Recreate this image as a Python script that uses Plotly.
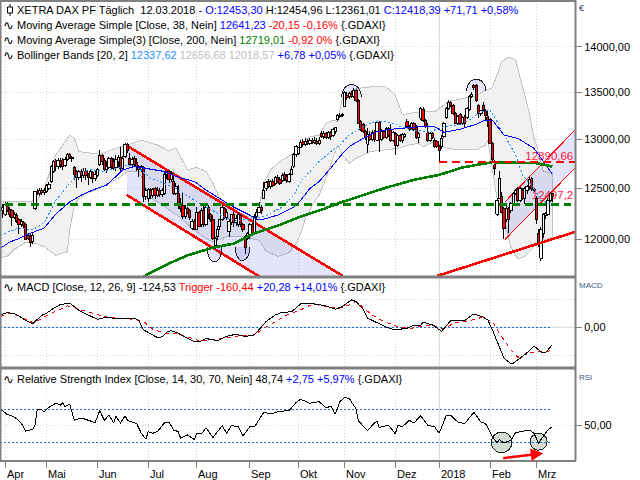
"""
XETRA DAX daily candles with moving averages, Bollinger bands, MACD and RSI
"""

import numpy as np
import plotly.graph_objects as go

# Candles, one per trading day (index -1 ... 237)
bar_index = list(range(-1, 238))
opens = [
    12279, 12245, 12340, 12289, 12279, 12211, 12235, 12194, 12143, 12167,
    12143, 12041, 12031, 11980, 12296, 12473, 12449, 12483, 12456, 12473,
    12500, 12568, 12670, 12779, 12721, 12786, 12789, 12731, 12789, 12840,
    12813, 12711, 12670, 12609, 12670, 12629, 12677, 12643, 12609, 12663,
    12595, 12629, 12738, 12833, 12779, 12687, 12711, 12799, 12772, 12711,
    12772, 12813, 12704, 12823, 12949, 12806, 12745, 12799, 12765, 12721,
    12687, 12711, 12415, 12398, 12483, 12425, 12500, 12432, 12483, 12439,
    12449, 12643, 12670, 12585, 12568, 12449, 12449, 12347, 12330, 12221,
    12296, 12279, 12109, 12177, 12099, 12262, 12143, 12279, 12143, 12313,
    12245, 12194, 11939, 12024, 12119, 12194, 12296, 12211, 12075, 12160,
    12245, 12160, 12143, 12228, 12143, 12024, 12007, 12041, 12143, 12065,
    12221, 12262, 12313, 12398, 12500, 12568, 12517, 12568, 12551, 12609,
    12585, 12575, 12636, 12619, 12568, 12643, 12721, 12840, 12857, 12915,
    12976, 12949, 12983, 12959, 12993, 12969, 12983, 12959, 13063, 13028,
    13063, 13020, 13070, 13040, 13080, 13205, 13240, 13250, 13346, 13470,
    13452, 13487, 13452, 13522, 13416, 13187, 13152, 13081, 12950, 13050,
    13000, 13070, 12990, 13180, 13000, 13080, 13020, 13110, 13100, 12990,
    13060, 12940, 13040, 12990, 13030, 13187, 13134, 13110, 13170, 13120,
    13020, 13222, 13320, 13200, 13070, 12990, 13060, 12990, 12975, 12925,
    12925, 13028, 13229, 13328, 13395, 13360, 13270, 13170, 13260, 13170,
    13240, 13230, 13316, 13456, 13575, 13570, 13360, 13270, 13360, 13300,
    13240, 13210, 12960, 12740, 12245, 12398, 12415, 12296, 12194, 12296,
    12279, 12347, 12449, 12500, 12381, 12483, 12398, 12483, 12517, 12595,
    12480, 12398, 12058, 11820, 12058, 12230, 12245, 12381, 12453.3,
]
highs = [
    12347, 12364, 12364, 12313, 12296, 12262, 12255, 12211, 12194, 12177,
    12160, 12058, 12048, 12058, 12473, 12493, 12500, 12500, 12505, 12541,
    12568, 12738, 12789, 12799, 12806, 12806, 12806, 12817, 12857, 12857,
    12830, 12721, 12687, 12687, 12697, 12704, 12704, 12653, 12687, 12677,
    12670, 12704, 12891, 12847, 12806, 12772, 12823, 12823, 12806, 12840,
    12840, 12925, 12830, 12959, 12965, 12857, 12823, 12830, 12806, 12738,
    12740, 12721, 12500, 12507, 12500, 12507, 12517, 12510, 12500, 12500,
    12670, 12680, 12687, 12670, 12636, 12551, 12534, 12400, 12449, 12330,
    12313, 12296, 12201, 12194, 12313, 12279, 12303, 12347, 12337, 12337,
    12260, 12235, 12024, 12126, 12194, 12330, 12313, 12290, 12201, 12245,
    12262, 12240, 12269, 12250, 12160, 12041, 12070, 12160, 12160, 12245,
    12290, 12364, 12330, 12568, 12575, 12590, 12585, 12590, 12629, 12635,
    12610, 12653, 12660, 12640, 12653, 12721, 12857, 12942, 12925, 12993,
    13000, 13010, 13000, 13015, 13015, 13020, 13010, 13027, 13090, 13085,
    13080, 13090, 13090, 13115, 13135, 13265, 13275, 13280, 13510, 13500,
    13500, 13510, 13550, 13535, 13425, 13200, 13170, 13095, 13120, 13090,
    13095, 13095, 13190, 13195, 13105, 13100, 13130, 13125, 13160, 13085,
    13075, 13060, 13055, 13070, 13065, 13210, 13150, 13185, 13185, 13150,
    13075, 13345, 13340, 13215, 13170, 13075, 13075, 13010, 12995, 12940,
    13050, 13185, 13345, 13420, 13410, 13375, 13285, 13255, 13275, 13245,
    13255, 13345, 13470, 13500, 13590, 13585, 13375, 13315, 13400, 13320,
    13300, 13225, 12975, 12790, 12400, 12670, 12460, 12310, 12320, 12310,
    12360, 12465, 12495, 12510, 12515, 12500, 12515, 12530, 12610, 12610,
    12505, 12420, 12100, 12115, 12260, 12270, 12400, 12465, 12454.96,
]
lows = [
    12211, 12228, 12262, 12221, 12126, 12194, 12160, 12048, 12119, 12109,
    11990, 11990, 11929, 11956, 12289, 12432, 12425, 12432, 12432, 12449,
    12483, 12551, 12653, 12670, 12697, 12704, 12690, 12714, 12772, 12799,
    12770, 12585, 12500, 12585, 12568, 12602, 12585, 12534, 12592, 12551,
    12575, 12619, 12721, 12738, 12670, 12653, 12697, 12687, 12687, 12670,
    12704, 12670, 12690, 12806, 12860, 12721, 12721, 12730, 12670, 12619,
    12660, 12364, 12380, 12364, 12398, 12405, 12398, 12410, 12415, 12415,
    12432, 12590, 12551, 12560, 12432, 12432, 12296, 12270, 12194, 12201,
    12245, 12190, 12092, 12085, 12085, 12126, 12119, 12119, 12126, 12194,
    12170, 11990, 11905, 11990, 12090, 12177, 12194, 12190, 12024, 12143,
    12119, 12130, 12119, 12120, 12070, 11857, 11990, 12007, 12041, 12058,
    12190, 12255, 12245, 12391, 12473, 12500, 12490, 12510, 12534, 12550,
    12530, 12568, 12575, 12550, 12550, 12630, 12704, 12823, 12840, 12908,
    12925, 12935, 12940, 12945, 12950, 12955, 12940, 12940, 13010, 13005,
    13000, 13000, 12990, 13025, 13060, 13190, 13225, 13235, 13340, 13420,
    13430, 13435, 13440, 13400, 13160, 13085, 13070, 12990, 12857, 12980,
    12985, 12975, 12980, 12870, 12985, 13005, 13005, 13020, 12975, 12975,
    12840, 12925, 12970, 12960, 13015, 13120, 13085, 13095, 13085, 13005,
    12960, 13205, 13185, 13115, 12975, 12975, 13005, 12910, 12910, 12772,
    12900, 13015, 13215, 13315, 13345, 13255, 13160, 13155, 13155, 13155,
    13130, 13215, 13300, 13440, 13530, 13400, 13220, 13250, 13295, 13200,
    13130, 12950, 12780, 12636, 12230, 12390, 12255, 12007, 12170, 12060,
    12260, 12335, 12435, 12360, 12365, 12385, 12340, 12440, 12480, 12470,
    12460, 12150, 11930, 11790, 12010, 12200, 12230, 12365, 12361.01,
]
closes = [
    12313, 12340, 12279, 12245, 12211, 12245, 12177, 12143, 12177, 12133,
    11997, 12007, 11973, 12041, 12466, 12449, 12483, 12456, 12483, 12527,
    12541, 12721, 12772, 12721, 12779, 12738, 12721, 12789, 12840, 12813,
    12800, 12636, 12609, 12670, 12629, 12670, 12629, 12609, 12670, 12595,
    12643, 12687, 12833, 12772, 12687, 12721, 12799, 12721, 12704, 12789,
    12813, 12704, 12800, 12949, 12880, 12745, 12789, 12745, 12721, 12687,
    12721, 12415, 12480, 12493, 12425, 12493, 12432, 12483, 12439, 12483,
    12643, 12670, 12585, 12653, 12449, 12517, 12330, 12296, 12221, 12296,
    12262, 12211, 12177, 12099, 12262, 12126, 12279, 12143, 12313, 12245,
    12194, 12007, 12007, 12099, 12194, 12313, 12211, 12262, 12177, 12245,
    12160, 12200, 12245, 12143, 12099, 11922, 12058, 12143, 12058, 12221,
    12260, 12313, 12279, 12483, 12561, 12517, 12568, 12527, 12609, 12568,
    12551, 12629, 12595, 12575, 12643, 12687, 12840, 12925, 12915, 12969,
    12949, 12983, 12959, 12993, 12969, 12990, 12959, 12993, 13028, 13063,
    13020, 13070, 13030, 13100, 13120, 13250, 13255, 13265, 13494, 13441,
    13487, 13452, 13522, 13416, 13169, 13099, 13081, 13017, 13050, 13000,
    13070, 13000, 13180, 13000, 13080, 13020, 13110, 13040, 12990, 13070,
    12940, 13040, 12990, 13050, 13050, 13134, 13100, 13170, 13100, 13020,
    13060, 13328, 13200, 13130, 12990, 13060, 13020, 12925, 12925, 12890,
    13010, 13170, 13328, 13395, 13360, 13270, 13170, 13240, 13170, 13230,
    13170, 13330, 13456, 13480, 13547, 13416, 13270, 13300, 13310, 13250,
    13200, 12960, 12790, 12700, 12381, 12602, 12262, 12109, 12296, 12194,
    12347, 12449, 12480, 12381, 12500, 12398, 12500, 12517, 12585, 12500,
    12490, 12194, 11956, 12092, 12245, 12250, 12381, 12449, 12418.39,
]

# SMA 38
sma38_x = [-2, 2, 6, 11, 17, 22, 28, 33, 38, 44, 48, 51, 56, 61, 69, 74, 82, 87, 93, 99, 105,
           110, 113, 118, 125, 128, 132, 136, 141, 145, 149, 155, 161, 167, 180, 186, 190, 197,
           204, 207, 211, 216, 222, 229, 237]
sma38_y = [11915, 11973, 12007, 12058, 12109, 12245, 12364, 12432, 12483, 12534, 12619, 12687,
           12721, 12704, 12670, 12619, 12568, 12483, 12398, 12313, 12245, 12187, 12201, 12235,
           12313, 12381, 12500, 12568, 12704, 12823, 12925, 13010, 13081, 13106, 13134, 13134,
           13074, 13106, 13159, 13194, 13201, 13046, 13010, 12908, 12641.23]

# SMA 200
sma200_x = [55, 61, 70, 79, 90, 99, 108, 118, 128, 136, 145, 155, 165, 177, 188, 198, 211, 222, 230, 237]
sma200_y = [11560, 11660, 11760, 11846, 11920, 11958, 12058, 12131, 12221, 12279, 12357, 12432,
            12507, 12585, 12636, 12711, 12765, 12758, 12755, 12719.01]

# Bollinger bands
bb_upper_x = [-2, 11, 14, 17, 19, 22, 26, 28, 30, 32, 41, 48, 53, 59, 66, 71, 74, 79, 83, 87, 90,
              93, 96, 102, 109, 112, 115, 119, 125, 128, 132, 136, 139, 142, 144, 146, 149, 152,
              158, 165, 169, 172, 175, 181, 186, 190, 192, 198, 203, 208, 211, 215, 218, 221, 224,
              227, 229, 231, 233, 237]
bb_upper_y = [12364, 12371, 12381, 12500, 12636, 12840, 12976, 13044, 13010, 12874, 12847, 12908,
              12942, 12993, 12942, 12881, 12908, 12687, 12711, 12670, 12551, 12398, 12330, 12245,
              12194, 12551, 12687, 12772, 12857, 12942, 13027, 13044, 13169, 13205, 13187, 13434,
              13505, 13540, 13558, 13558, 13469, 13257, 13275, 13293, 13293, 13363, 13399, 13434,
              13452, 13522, 13547, 13840, 13886, 13858, 13558, 13275, 13010, 12874, 12670, 12656.68]
bb_lower_x = [-2, 1, 4, 6, 9, 14, 17, 22, 27, 28, 30, 32, 35, 41, 48, 53, 58, 60, 62, 66, 76, 80,
              86, 90, 96, 103, 110, 113, 118, 123, 126, 128, 130, 133, 136, 139, 144, 146, 149,
              152, 158, 165, 170, 175, 179, 181, 186, 191, 197, 204, 208, 209, 213, 217, 219, 222,
              225, 228, 230, 235, 237]
bb_lower_y = [11827, 11837, 11905, 11929, 11973, 11956, 11929, 11847, 11881, 12092, 12330, 12398,
              12449, 12500, 12585, 12670, 12670, 12568, 12415, 12364, 12211, 12126, 12024, 11973,
              12024, 12024, 11990, 11888, 11837, 11871, 11956, 12058, 12194, 12330, 12432, 12602,
              12942, 12840, 12755, 12806, 12874, 12891, 12908, 12942, 12959, 12925, 12976, 12908,
              12891, 12891, 12942, 12993, 12398, 12109, 11922, 11813, 11837, 11905, 11973, 12007,
              12018.57]
bb_mid_x = [-2, 2, 6, 12, 17, 22, 28, 32, 37, 43, 48, 53, 58, 63, 67, 74, 82, 90, 96, 100, 106,
            112, 120, 125, 128, 132, 136, 141, 145, 149, 155, 161, 167, 171, 176, 184, 190, 196,
            201, 206, 210, 213, 215, 217, 221, 224, 229, 232, 237]
bb_mid_y = [12041, 12075, 12109, 12092, 12160, 12381, 12551, 12653, 12687, 12670, 12704, 12738,
            12704, 12602, 12568, 12500, 12381, 12279, 12201, 12184, 12194, 12221, 12313, 12432,
            12568, 12670, 12772, 12874, 12942, 13046, 13134, 13194, 13180, 13134, 13099, 13081,
            13134, 13152, 13205, 13293, 13310, 13187, 13081, 13010, 12840, 12636, 12500, 12381,
            12337.62]

# Support line and channels
support_level = 12340
resistance_level = 12765
resistance_x = [188, 247]
support_x = [0, 245]
rising_x = [187, 247]
rising_y = [11652, 12073]
channel1_x = [52.7, 146.3]
channel1_upper = [12935, 11652]
channel1_lower = [12434, 11177]
channel2_x = [216.5, 246.75]
channel2_upper = [12367, 13098]
channel2_lower = [12000, 12705]

# MACD pane
macd_x = [-2, 0, 1, 4, 6, 9, 12, 13, 16, 18, 21, 24, 28, 30, 32, 35, 38, 40, 43, 47, 51, 56, 58, 60,
          63, 66, 68, 70, 72, 75, 78, 82, 84, 87, 92, 96, 100, 104, 108, 110, 113, 117, 120, 124,
          128, 132, 136, 139, 143, 146, 150, 152, 155, 157, 161, 165, 169, 174, 177, 180, 181,
          185, 189, 193, 199, 203, 207, 209, 211, 214, 216, 219, 220, 223, 226, 229, 232, 234,
          235, 237]
macd_y = [88, 100, 105, 98, 81, 48, 24, 41, 86, 100, 136, 163, 172, 148, 120, 96, 69, 57, 69, 67, 62,
          65, 48, -19, -48, -74, -69, -36, -24, -43, -72, -103, -105, -81, -96, -65, -50, -67, -55,
          -14, 41, 88, 108, 110, 167, 172, 163, 153, 129, 148, 196, 184, 129, 65, 33, 0, -19, -7,
          14, 14, 36, 17, -29, 48, 48, 96, 72, 53, -19, -139, -222, -261, -258, -222, -182, -134,
          -177, -182, -163, -124.53]
trigger_x = [-2, 2, 6, 12, 15, 19, 27, 32, 38, 43, 48, 56, 60, 64, 69, 74, 80, 84, 90, 96, 102, 108,
             112, 116, 122, 128, 133, 136, 144, 148, 152, 158, 162, 166, 170, 175, 180, 185, 190,
             194, 200, 206, 211, 214, 219, 222, 226, 230, 234, 237]
trigger_y = [76, 100, 81, 33, 53, 91, 153, 129, 96, 76, 65, 57, 41, -14, -43, -43, -74, -96, -91, -74,
             -60, -55, -7, 29, 88, 124, 165, 158, 134, 153, 184, 100, 57, 29, 5, -10, 5, 14, -14, 29,
             41, 69, 41, -43, -163, -215, -191, -174, -179, -160.44]

# RSI pane
rsi_x = [-2, -1, 1, 3, 5, 7, 9, 12, 13, 14, 16, 17, 19, 22, 24, 25, 26, 28, 30, 32, 33, 35, 38, 39,
         41, 43, 45, 47, 48, 50, 52, 53, 57, 59, 61, 62, 64, 66, 69, 71, 73, 75, 76, 79, 82, 83, 85,
         87, 90, 94, 96, 98, 101, 103, 106, 108, 112, 115, 119, 123, 126, 128, 132, 136, 139, 141,
         143, 145, 147, 149, 152, 153, 157, 159, 161, 162, 166, 169, 170, 172, 175, 177, 180, 183,
         186, 188, 191, 193, 196, 199, 203, 206, 208, 211, 213, 214, 216, 219, 221, 227, 229, 231,
         235, 237]
rsi_y = [70, 68, 63.3, 61.8, 58.2, 53.1, 43.3, 45.3, 50.4, 70, 68.8, 66.5, 72, 77, 74.7, 77.8, 73.1,
         75.9, 56.3, 58.2, 59, 57.4, 54.3, 53.5, 68, 56.3, 62.9, 53.1, 61, 53.1, 61.8, 56.3, 52.4,
         40.6, 33.5, 42.6, 40.6, 42.6, 53.1, 54.3, 44.5, 42.6, 34.7, 38.6, 32.8, 40.6, 39.8, 47.3,
         35.5, 49.6, 40.6, 50, 48.4, 37.5, 48.4, 48.4, 66, 64.1, 67.2, 68, 77.8, 81.8, 77, 79, 71.2,
         73.5, 64.1, 79, 83.7, 82.9, 70, 55.5, 43.7, 50.4, 55.5, 47.6, 50.4, 39.8, 50.4, 48.4, 56.3,
         53.1, 61.8, 50.4, 48.4, 40.6, 62.2, 62.2, 54.3, 52.4, 66.1, 54.3, 52.4, 36.7, 28.8, 32.8,
         28.8, 32, 41.4, 44.5, 40.6, 28.8, 44.5, 48.74]

# Axis ticks
month_ticks = [0, 18, 40, 62, 83, 106, 127, 147, 169, 188, 210, 230]
month_labels = ["Apr", "Mai", "Jun", "Jul", "Aug", "Sep", "Okt", "Nov", "Dez", "2018", "Feb", "Mrz"]
price_ticks = [12000, 12500, 13000, 13500, 14000]
price_labels = ["12000,00", "12500,00", "13000,00", "13500,00", "14000,00"]

FONT = "Liberation Sans"
GRID = "#d6d6d6"
BORDER = "#808080"
RED = "#ff0000"
GREEN = "#008000"
LAVENDER = "rgba(90,90,225,0.16)"
DOTTED = "1px,2px"
LEVEL_BLUE = "#1f6fe0"
LEVEL_DASH = "2px,2px"


def line(x, y, color, width=1, dash="solid", xa="x", ya="y"):
    return go.Scatter(x=x, y=y, mode="lines", xaxis=xa, yaxis=ya, hoverinfo="skip",
                      line=dict(color=color, width=width, dash=dash))


def channel(x, upper, lower, width):
    fig.add_trace(go.Scatter(x=[x[0], x[1], x[1], x[0]], y=[upper[0], upper[1], lower[1], lower[0]],
                             mode="none", fill="toself", fillcolor=LAVENDER, hoverinfo="skip"))
    fig.add_trace(line(x, upper, RED, width))
    fig.add_trace(line(x, lower, RED, width))


def half_ellipse(cx, rx, base, top, start, stop, fill, xa="x", ya="y", log=True):
    # arc drawn in price space, filled up to its chord
    t = np.linspace(start, stop, 40)
    xs = cx + rx * np.cos(t)
    if log:
        ys = 10 ** (np.log10(base) + (np.log10(top) - np.log10(base)) * np.sin(t))
    else:
        ys = base + (top - base) * np.sin(t)
    fig.add_trace(go.Scatter(x=xs, y=ys, mode="lines", xaxis=xa, yaxis=ya, hoverinfo="skip",
                             fill="toself", fillcolor=fill, line=dict(color="#202020", width=1)))


fig = go.Figure()

# Bollinger band under everything else
fig.add_trace(go.Scatter(x=bb_upper_x + bb_lower_x[::-1], y=bb_upper_y + bb_lower_y[::-1],
                         mode="lines", fill="toself", fillcolor="#f1f1f1", hoverinfo="skip",
                         line=dict(color="#c4c4c4", width=1)))

channel(channel1_x, channel1_upper, channel1_lower, 2.6)
channel(channel2_x, channel2_upper, channel2_lower, 1)

half_ellipse(150, 4.3, 13449, 13585, 0, np.pi, LAVENDER)
half_ellipse(204, 4.2, 13510, 13645, 0, np.pi, LAVENDER)
half_ellipse(90.7, 3.2, 11926, 11783, 0, np.pi, LAVENDER)
half_ellipse(102.8, 3.2, 11926, 11796, 0, np.pi, LAVENDER)

fig.add_trace(go.Scatter(x=[246, 246], y=[12818, 12424], text=["12890,66", "12497,2"],
                         mode="text", textposition="middle left", hoverinfo="skip",
                         textfont=dict(family=FONT, size=11.5, color="#ff2040")))

# Candles: wicks first, then bodies as rectangles so they sit over the fills
wick_x, wick_y = [], []
up_x, up_y, down_x, down_y = [], [], [], []
BODY = 0.5
for i, o, h, l, c in zip(bar_index, opens, highs, lows, closes):
    wick_x += [i, i, None]
    wick_y += [l, h, None]
    xs = [i - BODY, i + BODY, i + BODY, i - BODY, i - BODY, None]
    ys = [o, o, c, c, o, None]
    if c >= o:
        up_x += xs
        up_y += ys
    else:
        down_x += xs
        down_y += ys
fig.add_trace(line(wick_x, wick_y, "#000000", 1))
for bx, by, col in [(up_x, up_y, "#ffffff"), (down_x, down_y, RED)]:
    fig.add_trace(go.Scatter(x=bx, y=by, mode="lines", fill="toself", fillcolor=col, hoverinfo="skip",
                             line=dict(color="#000000", width=1)))

fig.add_trace(line(bb_mid_x, bb_mid_y, "#1e90ff", 1, LEVEL_DASH))
fig.add_trace(line(sma38_x, sma38_y, "#0000ff", 1))
fig.add_trace(line(sma200_x, sma200_y, GREEN, 2.6))
fig.add_trace(line(support_x, [support_level] * 2, GREEN, 2.2, "8px,5px"))
fig.add_trace(line(resistance_x, [resistance_level] * 2, RED, 2, "8px,5px"))
fig.add_trace(line(rising_x, rising_y, RED, 2.6))

# MACD
fig.add_trace(line([-2, 237], [0, 0], LEVEL_BLUE, 1, LEVEL_DASH, "x2", "y2"))
fig.add_trace(line(trigger_x, trigger_y, RED, 1, "4px,4px", "x2", "y2"))
fig.add_trace(line(macd_x, macd_y, "#000000", 1, "solid", "x2", "y2"))

# RSI
half_ellipse(215, 4.46, 29.6, 42.1, 0, 2 * np.pi, "#d3ddd3", "x3", "y3", False)
half_ellipse(231, 3.7, 30.3, 40.6, 0, 2 * np.pi, "#d3ddd3", "x3", "y3", False)
fig.add_trace(line([-2, 237], [70, 70], LEVEL_BLUE, 1, LEVEL_DASH, "x3", "y3"))
fig.add_trace(line([-2, 237], [30, 30], LEVEL_BLUE, 1, LEVEL_DASH, "x3", "y3"))
fig.add_trace(line(rsi_x, rsi_y, "#000000", 1, "solid", "x3", "y3"))

# Axes
x_range = [-1.73, 246.75]
x_common = dict(range=x_range, domain=[1 / 640, 575 / 640], tickmode="array", tickvals=month_ticks,
                showticklabels=False, showgrid=True, griddash=DOTTED, gridcolor=GRID, gridwidth=1,
                zeroline=False, showline=False)
y_common = dict(side="right", showgrid=True, griddash=DOTTED, gridcolor=GRID, zeroline=False, ticks="outside",
                ticklen=6, tickcolor=BORDER, tickfont=dict(family=FONT, size=11, color="#000000"),
                tickmode="array", showline=False)

fig.update_layout(
    width=640, height=480, autosize=False, margin=dict(l=0, r=0, t=0, b=0),
    paper_bgcolor="white", plot_bgcolor="white", showlegend=False,
    xaxis=dict(x_common, anchor="y", ticks=""),
    xaxis2=dict(x_common, anchor="y2", ticks=""),
    xaxis3=dict(x_common, anchor="y3", ticks="outside", ticklen=6, tickcolor=BORDER),
    yaxis=dict(y_common, type="log", range=[np.log10(11652), np.log10(14525)], anchor="x",
               domain=[1 - 276 / 480, 1 - 1 / 480], tickvals=price_ticks, ticktext=price_labels),
    yaxis2=dict(y_common, range=[-285, 353], anchor="x2", domain=[1 - 367 / 480, 1 - 278 / 480],
                tickvals=[0], ticktext=["0,00"],
                minor=dict(tickvals=[-200, 200], showgrid=True, griddash=DOTTED, gridcolor=GRID, ticks="")),
    yaxis3=dict(y_common, range=[7.6, 117.9], anchor="x3", domain=[1 - 460.5 / 480, 1 - 369.5 / 480],
                tickvals=[50], ticktext=["50,00"]),
)


def hline_paper(px0, px1, py, color, width):
    fig.add_shape(type="line", xref="paper", yref="paper", x0=px0 / 640, x1=px1 / 640,
                  y0=1 - py / 480, y1=1 - py / 480, line=dict(color=color, width=width))


def vline_paper(px, py0, py1, color, width):
    fig.add_shape(type="line", xref="paper", yref="paper", x0=px / 640, x1=px / 640,
                  y0=1 - py0 / 480, y1=1 - py1 / 480, line=dict(color=color, width=width))


# Solid light reference lines behind the data
for xa, ya in [("x", "y"), ("x2", "y2"), ("x3", "y3")]:
    fig.add_shape(type="line", xref=xa, yref=ya + " domain", x0=188, x1=188, y0=0, y1=1, layer="below",
                  line=dict(color="#dcdcdc", width=1))
fig.add_shape(type="line", xref="x domain", yref="y", x0=0, x1=1, y0=np.log10(12500), y1=np.log10(12500),
              layer="below", line=dict(color="#dcdcdc", width=1))
fig.add_shape(type="line", xref="x2 domain", yref="y2", x0=0, x1=1, y0=0, y1=0, layer="below",
              line=dict(color="#dcdcdc", width=1))

# Pane borders
hline_paper(0, 576, 1, BORDER, 2)
hline_paper(0, 576, 277, BORDER, 3)
hline_paper(0, 576, 368, BORDER, 3)
hline_paper(0, 576, 461, BORDER, 2)
vline_paper(0.5, 0, 461, BORDER, 2)
vline_paper(575.5, 0, 461, BORDER, 2)


def label(px, py, text, size=11, color="#000000", family=FONT, xanchor="left"):
    fig.add_annotation(xref="paper", yref="paper", x=px / 640, y=1 - py / 480, text=text, showarrow=False,
                       xanchor=xanchor, yanchor="middle", align="left", xshift=0, borderpad=0, borderwidth=0,
                       font=dict(family=family, size=size, color=color))


def span(text, color):
    return f'<span style="color:{color}">{text}</span>'


BLUE = "#0000ff"
GDAXI = "{.GDAXI}"
header_lines = [
    (10, "XETRA DAX PF Täglich  12.03.2018 - " + span("O:12453,30", BLUE) + " H:12454,96 L:12361,01 "
     + span("C:12418,39 +71,71 +0,58%", BLUE)),
    (25, "Moving Average Simple [Close, 38, Nein] " + span("12641,23", BLUE) + " "
     + span("-20,15 -0,16%", RED) + " " + GDAXI),
    (40, "Moving Average Simple(3) [Close, 200, Nein] " + span("12719,01", GREEN) + " "
     + span("-0,92 0%", RED) + " " + GDAXI),
    (55, "Bollinger Bands [20, 2] " + span("12337,62", "#1e90ff") + " " + span("12656,68 12018,57", "#c0c0c0")
     + " " + span("+6,78 +0,05%", BLUE) + " " + GDAXI),
    (287, "MACD [Close, 12, 26, 9] -124,53 " + span("Trigger -160,44", RED) + " "
     + span("+20,28 +14,01%", BLUE) + " " + GDAXI),
    (379, "Relative Strength Index [Close, 14, 30, 70, Nein] 48,74 " + span("+2,75 +5,97%", BLUE) + " " + GDAXI),
]
for py, text in header_lines:
    label(17, py, text, 11)
for py in [25, 40, 55, 287, 379]:
    label(3, py, "∿", 13, "#000000", "DejaVu Sans")

# Candle icon in the first header line
vline_paper(10, 4, 16, "#000000", 1)
fig.add_shape(type="rect", xref="paper", yref="paper", x0=7.5 / 640, x1=12.5 / 640, y0=1 - 13 / 480, y1=1 - 7 / 480,
              line=dict(color="#000000", width=1), fillcolor="white")

# Right side pane labels
label(579, 8, "€", 9, "#304060")
label(579, 285, "MACD", 8, "#405a80")
label(579, 377, "RSI", 8, "#405a80")

# Month labels to the right of their tick
for tick, text in zip(month_ticks, month_labels):
    px = 5 + 2.31 * tick
    label(px + 1.5, 474, text, 11)

# Red arrow in the RSI pane
fig.add_annotation(xref="x3", yref="y3", axref="x3", ayref="y3", x=233, y=16.3, ax=215, ay=10.2,
                   text="", showarrow=True, arrowhead=2, arrowsize=1, arrowwidth=2.5, arrowcolor=RED)

# hard pixel edges, the reference was drawn without antialiasing
crisp = ("document.body.style.margin='0';document.body.style.overflow='hidden';"
         "document.querySelectorAll('.scatterlayer path').forEach(function(p){p.style.shapeRendering='crispEdges';});")
fig.write_html("out.html", config={"displayModeBar": False}, post_script=crisp)
